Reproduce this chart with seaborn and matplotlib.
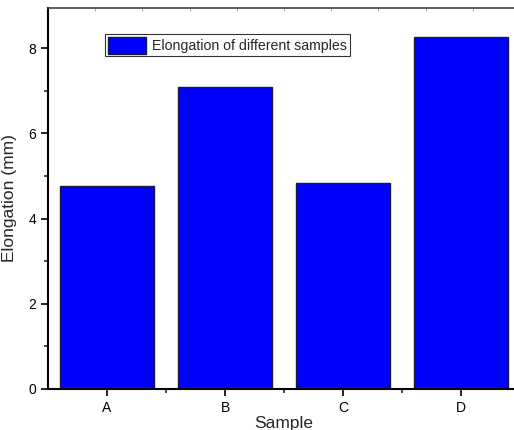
import matplotlib
matplotlib.use("Agg")
import matplotlib.pyplot as plt
import seaborn as sns
import pandas as pd
from matplotlib.ticker import MultipleLocator, FixedLocator

samples = ["A", "B", "C", "D"]
elongation = [4.77, 7.09, 4.84, 8.27]

df = pd.DataFrame({"Sample": samples, "Elongation": elongation})

sns.set_style("ticks")
plt.rcParams["font.family"] = ["Liberation Sans", "DejaVu Sans"]

fig = plt.figure(figsize=(5.14, 4.30), dpi=100)
ax = fig.add_axes([48 / 514, 41 / 430, 472 / 514, 381 / 430])

sns.barplot(data=df, x="Sample", y="Elongation", color="#0000ff", saturation=1,
            width=0.8, edgecolor="#1a1a40", linewidth=1,
            label="Elongation of different samples", ax=ax)

ax.set_xlim(-0.5, 3.5)
ax.set_ylim(0, 8.94)
ax.yaxis.set_major_locator(MultipleLocator(2))
ax.yaxis.set_minor_locator(MultipleLocator(1))
ax.xaxis.set_minor_locator(FixedLocator([0.5, 1.5, 2.5]))

ax.tick_params(axis="both", which="major", direction="out", length=5, width=1.2,
               labelsize=10, colors="black")
ax.tick_params(axis="both", which="minor", direction="out", length=3, width=1.2)

for s in ["left", "bottom"]:
    ax.spines[s].set_linewidth(1.5)
    ax.spines[s].set_color("black")
ax.spines["top"].set_visible(True)
ax.spines["top"].set_color("#444444")
ax.spines["top"].set_linewidth(1.2)
ax.spines["right"].set_visible(False)

top = ax.secondary_xaxis("top")
top.set_xticks([-0.1 + 0.4 * i for i in range(10)])
top.tick_params(direction="in", length=2, width=0.6, colors="#999999", labeltop=False)
top.spines["top"].set_visible(False)

ax.set_xlabel("Sample", fontsize=12.5, labelpad=1)
ax.set_ylabel("Elongation (mm)", fontsize=12.5, labelpad=8)

leg = ax.legend(loc="upper left", bbox_to_anchor=(0.121, 0.932), fontsize=10.2,
                frameon=True, fancybox=False, edgecolor="black",
                handlelength=2.7, handleheight=1.45, borderpad=0.2,
                handletextpad=0.4, borderaxespad=0)
leg.get_frame().set_linewidth(0.8)

fig.savefig("out.png", dpi=100)
